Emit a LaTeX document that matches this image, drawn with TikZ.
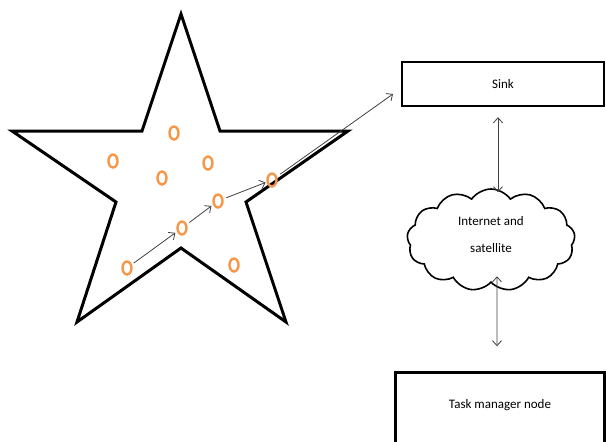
\documentclass[tikz,border=0pt]{standalone}
\usepackage{fontspec}
\setmainfont{Carlito}
\usetikzlibrary{shapes.geometric,shapes.symbols,arrows.meta}
\definecolor{sensororange}{RGB}{247,150,70}
\tikzset{
  sensor/.style={ellipse, draw=sensororange, line width=2.4pt, minimum width=9pt, minimum height=13pt, inner sep=0pt},
  box/.style={draw, line width=2.4pt, font=\fontsize{13}{16}\selectfont},
  hop/.style={->, draw=black!75, line width=0.8pt},
}
\begin{document}
\begin{tikzpicture}[x=1pt,y=-1pt,>={Straight Barb[length=5pt,width=9pt]}]
\useasboundingbox (0,0) rectangle (606,442);

\draw[line width=3pt, line join=miter](181,14)--(220,131)--(348,131)--(246,202)--(286,322)--(181,248)
    --(77,322)--(116,202)--(12,131)--(142,131)--cycle;

\foreach \x/\y/\n in {174/133/s1,113/161/s2,208/163/s3,162/178/s4,218/201/s5,272/180/s6,182/228/s7,127/268/s8,234/265/s9}
{
    \node[sensor](\n) at (\x,\y){};
}

\node[box, minimum width=202pt, minimum height=44pt](sink) at (503,84){Sink};
\node[box, minimum width=209pt, minimum height=77pt, text depth=15pt](task) at (500,411){Task manager node};
\node[cloud, draw, line width=1.6pt, cloud puffs=13, cloud puff arc=110, aspect=1.7,
    minimum width=168pt, minimum height=102pt, inner sep=0pt, align=center, text depth=12pt,
    font=\fontsize{13}{27}\selectfont](cloud) at (491,240){Internet and\\satellite};
\coordinate (sinkin) at (393,94);

\draw[hop, shorten <=2pt, shorten >=2pt](s8)--(s7);
\draw[hop, shorten <=3pt, shorten >=2pt](s7)--(s5);
\draw[hop, shorten <=3pt, shorten >=1pt](s5)--(s6);
\draw[hop, shorten <=4pt](s6)--(sinkin);

\draw[<->, draw=black!75, line width=0.8pt]([xshift=-5pt, yshift=-10pt]sink.south)--([xshift=7pt, yshift=-4pt]cloud.north);
\draw[<->, draw=black!75, line width=0.8pt]([xshift=6pt, yshift=7pt]cloud.south)--([xshift=-3pt, yshift=25pt]task.north);
\end{tikzpicture}
\end{document}
